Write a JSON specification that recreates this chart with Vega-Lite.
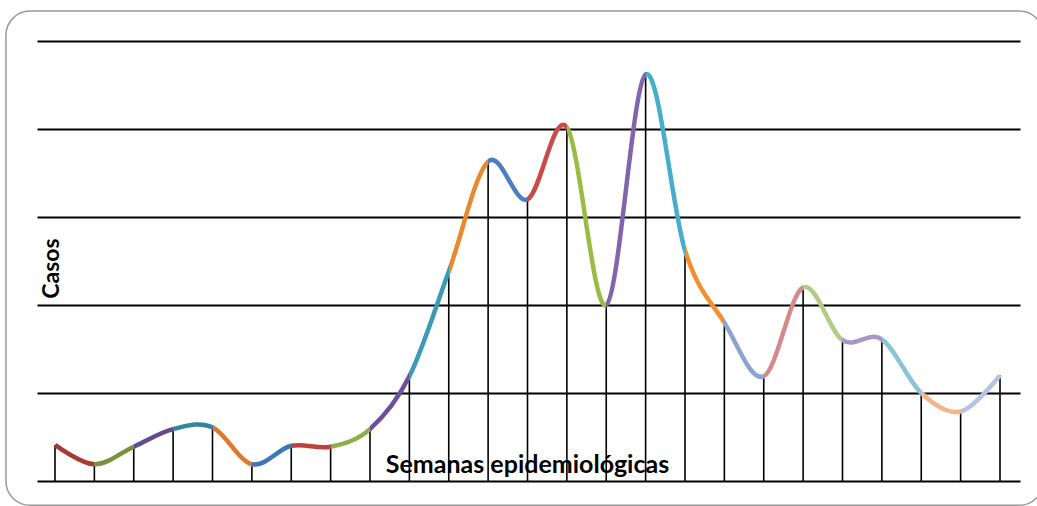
{
  "$schema": "https://vega.github.io/schema/vega-lite/v6.json",
  "width": 983,
  "height": 440,
  "autosize": {"type": "none"},
  "padding": {"left": 37, "top": 41, "right": 17, "bottom": 25},
  "background": "white",
  "config": {"view": {"stroke": null}},
  "data": {
    "values": [
      {"semana": 1, "casos": 4.1},
      {"semana": 2, "casos": 1.9},
      {"semana": 3, "casos": 3.9},
      {"semana": 4, "casos": 5.9},
      {"semana": 5, "casos": 6.1},
      {"semana": 6, "casos": 1.9},
      {"semana": 7, "casos": 4.0},
      {"semana": 8, "casos": 3.9},
      {"semana": 9, "casos": 5.9},
      {"semana": 10, "casos": 11.9},
      {"semana": 11, "casos": 23.8},
      {"semana": 12, "casos": 36.3},
      {"semana": 13, "casos": 32.0},
      {"semana": 14, "casos": 40.2},
      {"semana": 15, "casos": 20.0},
      {"semana": 16, "casos": 46.2},
      {"semana": 17, "casos": 26.2},
      {"semana": 18, "casos": 18.0},
      {"semana": 19, "casos": 11.9},
      {"semana": 20, "casos": 22.0},
      {"semana": 21, "casos": 16.0},
      {"semana": 22, "casos": 16.1},
      {"semana": 23, "casos": 10.0},
      {"semana": 24, "casos": 7.9},
      {"semana": 25, "casos": 12.0}
    ]
  },
  "layer": [
    {
      "data": {"values": [{"marco": 1}]},
      "mark": {"type": "rect", "fill": null, "stroke": "#9a9a9a", "strokeWidth": 1.5, "cornerRadius": 24, "clip": false},
      "encoding": {
        "x": {"datum": -0.245, "type": "quantitative", "scale": {"domain": [0.543, 25.508], "nice": false, "zero": false}},
        "x2": {"datum": 26.1},
        "y": {"datum": 53.4, "type": "quantitative", "scale": {"domain": [0, 50], "nice": false}},
        "y2": {"datum": -2.75}
      }
    },
    {
      "mark": {"type": "rule", "color": "black", "strokeWidth": 1.6},
      "encoding": {
        "x": {"field": "semana", "type": "quantitative", "scale": {"domain": [0.543, 25.508], "nice": false, "zero": false},
          "axis": {"title": "Semanas epidemiológicas", "labels": false, "ticks": false, "domain": false, "grid": false, "zindex": 1,
            "titleFont": "Lato", "titleFontSize": 25, "titleFontWeight": "bold", "titleColor": "black",
            "titleY": -9, "titleX": 490, "titleAlign": "center", "titleBaseline": "alphabetic"}},
        "y": {"field": "casos", "type": "quantitative", "scale": {"domain": [0, 50], "nice": false},
          "axis": {"title": "Casos", "values": [0, 10, 20, 30, 40, 50], "labels": false, "ticks": false, "domain": false,
            "grid": true, "gridColor": "black", "gridWidth": 2, "gridOpacity": 1,
            "titleFont": "Lato", "titleFontSize": 23, "titleFontWeight": "bold", "titleColor": "black",
            "titleX": 14, "titleY": 227, "titleBaseline": "middle", "titleAlign": "center", "titleAngle": -90}},
        "y2": {"datum": 0}
      }
    },
    {
      "mark": {
        "type": "line",
        "interpolate": "cardinal",
        "tension": 0,
        "strokeWidth": 4.5,
        "strokeCap": "butt",
        "stroke": {
          "gradient": "linear", "x1": 0, "y1": 0, "x2": 1, "y2": 0,
          "stops": [
            {"offset": 0.0000, "color": "#a83a36"}, {"offset": 0.0417, "color": "#a83a36"},
            {"offset": 0.0417, "color": "#77933c"}, {"offset": 0.0833, "color": "#77933c"},
            {"offset": 0.0833, "color": "#644a8c"}, {"offset": 0.1250, "color": "#644a8c"},
            {"offset": 0.1250, "color": "#31859c"}, {"offset": 0.1667, "color": "#31859c"},
            {"offset": 0.1667, "color": "#e0782a"}, {"offset": 0.2083, "color": "#e0782a"},
            {"offset": 0.2083, "color": "#3c77b8"}, {"offset": 0.2500, "color": "#3c77b8"},
            {"offset": 0.2500, "color": "#c0403d"}, {"offset": 0.2917, "color": "#c0403d"},
            {"offset": 0.2917, "color": "#8bb04a"}, {"offset": 0.3333, "color": "#8bb04a"},
            {"offset": 0.3333, "color": "#6e4f9c"}, {"offset": 0.3750, "color": "#6e4f9c"},
            {"offset": 0.3750, "color": "#3a9bb5"}, {"offset": 0.4167, "color": "#3a9bb5"},
            {"offset": 0.4167, "color": "#e8892d"}, {"offset": 0.4583, "color": "#e8892d"},
            {"offset": 0.4583, "color": "#4a7fc1"}, {"offset": 0.5000, "color": "#4a7fc1"},
            {"offset": 0.5000, "color": "#c94a47"}, {"offset": 0.5417, "color": "#c94a47"},
            {"offset": 0.5417, "color": "#9bbb45"}, {"offset": 0.5833, "color": "#9bbb45"},
            {"offset": 0.5833, "color": "#8264ad"}, {"offset": 0.6250, "color": "#8264ad"},
            {"offset": 0.6250, "color": "#45aec8"}, {"offset": 0.6667, "color": "#45aec8"},
            {"offset": 0.6667, "color": "#f38f2f"}, {"offset": 0.7083, "color": "#f38f2f"},
            {"offset": 0.7083, "color": "#8da4d3"}, {"offset": 0.7500, "color": "#8da4d3"},
            {"offset": 0.7500, "color": "#d48a8a"}, {"offset": 0.7917, "color": "#d48a8a"},
            {"offset": 0.7917, "color": "#b2cc88"}, {"offset": 0.8333, "color": "#b2cc88"},
            {"offset": 0.8333, "color": "#a896c5"}, {"offset": 0.8750, "color": "#a896c5"},
            {"offset": 0.8750, "color": "#8ac4d8"}, {"offset": 0.9167, "color": "#8ac4d8"},
            {"offset": 0.9167, "color": "#f7b487"}, {"offset": 0.9583, "color": "#f7b487"},
            {"offset": 0.9583, "color": "#b5c2e0"}, {"offset": 1.0000, "color": "#b5c2e0"}
          ]
        }
      },
      "encoding": {
        "x": {"field": "semana", "type": "quantitative"},
        "y": {"field": "casos", "type": "quantitative"}
      }
    }
  ]
}
